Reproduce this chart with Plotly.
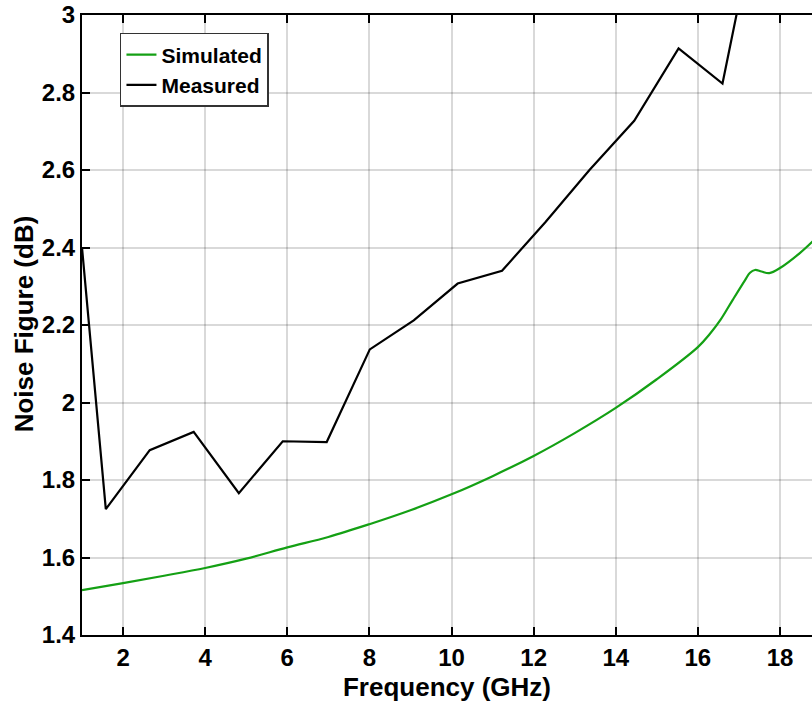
import plotly.graph_objects as go

# Measured data
meas_f = [1.0, 1.58, 2.65, 3.72, 4.82, 5.89, 6.96, 8.01, 9.08, 10.15, 11.23, 12.29, 13.36, 14.45, 15.53, 16.6, 17.67]
meas_nf = [2.40, 1.725, 1.877, 1.924, 1.766, 1.900, 1.898, 2.137, 2.212, 2.307, 2.340, 2.466, 2.600, 2.727, 2.914, 2.823, 3.38]

# Simulated data
sim_f = [1.0, 2.0, 3.0, 4.0, 5.0, 6.0, 7.0, 8.0, 9.0, 10.0, 11.0, 12.0, 13.0, 14.0, 15.0, 16.0, 16.3, 16.55, 16.85, 17.15, 17.27, 17.39, 17.55, 17.74, 18.0, 18.49, 18.8]
sim_nf = [1.516, 1.534, 1.553, 1.573, 1.597, 1.626, 1.653, 1.686, 1.722, 1.763, 1.810, 1.862, 1.921, 1.986, 2.060, 2.143, 2.178, 2.213, 2.265, 2.316, 2.335, 2.342, 2.338, 2.334, 2.347, 2.386, 2.416]

x_ticks = [2, 4, 6, 8, 10, 12, 14, 16, 18]
y_ticks = [1.4, 1.6, 1.8, 2.0, 2.2, 2.4, 2.6, 2.8, 3.0]
y_tick_labels = ["1.4", "1.6", "1.8", "2", "2.2", "2.4", "2.6", "2.8", "3"]

fig = go.Figure()
fig.add_trace(go.Scatter(x=sim_f, y=sim_nf, mode="lines", name="<b>Simulated</b>",
                         line=dict(color="rgb(20,160,20)", width=2.2, shape="spline", smoothing=1.0)))
fig.add_trace(go.Scatter(x=meas_f, y=meas_nf, mode="lines", name="<b>Measured</b>",
                         line=dict(color="black", width=2.2)))

font_family = "Liberation Sans, Arial, sans-serif"
fig.update_layout(
    width=812, height=708,
    margin=dict(l=82, r=0, t=15, b=73, autoexpand=False),
    paper_bgcolor="white", plot_bgcolor="white",
    font=dict(family=font_family, color="black", size=22),
    legend=dict(x=0.052, y=0.971, xanchor="left", yanchor="top",
                bgcolor="white", bordercolor="#333333", borderwidth=1.5,
                font=dict(size=21, family=font_family),
                tracegroupgap=0, itemwidth=30),
    showlegend=True,
    annotations=[dict(text="<b>Noise Figure (dB)</b>", textangle=-90,
                      xref="paper", yref="paper", x=-0.080, y=0.502,
                      xanchor="center", yanchor="middle", showarrow=False,
                      font=dict(size=26, family=font_family, color="black"))],
)
fig.update_xaxes(
    range=[1, 18.78], tickvals=x_ticks, ticktext=[f"<b>{v}</b>" for v in x_ticks],
    showgrid=True, gridcolor="rgba(0,0,0,0.15)", gridwidth=1.5,
    showline=True, linecolor="black", linewidth=2, mirror="ticks",
    ticks="inside", ticklen=8, tickwidth=2, tickcolor="black",
    tickfont=dict(size=24), zeroline=False, automargin=False,
    title=dict(text="<b>Frequency (GHz)</b>", font=dict(size=26), standoff=8),
)
fig.update_yaxes(
    range=[1.4, 3.0], tickvals=y_ticks, ticktext=[f"<b>{t}</b>" for t in y_tick_labels],
    showgrid=True, gridcolor="rgba(0,0,0,0.15)", gridwidth=1.5,
    showline=True, linecolor="black", linewidth=2, mirror=False,
    ticks="inside", ticklen=8, tickwidth=2, tickcolor="black",
    tickfont=dict(size=24), zeroline=False, automargin=False,
)

fig.write_html("out.html", config={"displayModeBar": False},
               post_script="document.body.style.margin='0px';")
